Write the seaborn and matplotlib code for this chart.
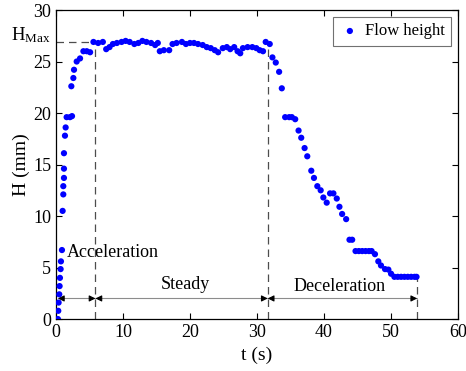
import seaborn as sns
import matplotlib.pyplot as plt
import pandas as pd

t_rise = [0.3, 0.35, 0.4, 0.5, 0.55, 0.6, 0.7, 0.75, 0.9, 1.0, 1.1, 1.1, 1.2, 1.2, 1.2,
          1.35, 1.45, 1.6, 2.1, 2.4, 2.3, 2.6, 2.7, 3.1, 3.6, 4.1, 4.6, 5.1, 5.6]
h_rise = [0.0, 0.8, 1.6, 2.4, 3.2, 4.0, 4.85, 5.6, 6.7, 10.5, 12.1, 12.9, 13.7, 14.6, 16.1,
          17.8, 18.6, 19.6, 19.6, 19.7, 22.6, 23.4, 24.2, 25.0, 25.3, 26.0, 26.0, 25.9, 26.9]

t_steady = [6.3, 7.0, 7.5, 8.0, 8.5, 9.1, 9.8, 10.4, 11.0, 11.7, 12.3, 12.9, 13.5, 14.2,
            14.8, 15.2, 15.5, 16.1, 16.9, 17.4, 18.0, 18.8, 19.4, 20.0, 20.6, 21.2, 21.9,
            22.5, 23.1, 23.7, 24.2, 24.9, 25.5, 26.0, 26.6, 27.1, 27.5, 27.9, 28.6, 29.3,
            29.9, 30.4, 30.9, 31.3, 31.9]
h_steady = [26.8, 26.9, 26.2, 26.4, 26.7, 26.8, 26.9, 27.0, 26.9, 26.7, 26.8, 27.0, 26.9, 26.8,
            26.6, 26.8, 26.0, 26.1, 26.1, 26.7, 26.8, 26.9, 26.7, 26.8, 26.8, 26.7, 26.6,
            26.4, 26.3, 26.1, 25.9, 26.3, 26.4, 26.2, 26.4, 26.0, 25.8, 26.3, 26.4, 26.4,
            26.3, 26.1, 26.0, 26.9, 26.7]

t_decel = [32.3, 32.8, 33.3, 33.7, 34.2, 34.8, 35.2, 35.7, 36.2, 36.6, 37.1, 37.5, 38.1,
           38.5, 39.0, 39.5, 39.9, 40.4, 40.9, 41.4, 41.9, 42.3, 42.7, 43.3, 43.8, 44.2,
           44.7, 45.2, 45.7, 46.2, 46.7, 47.1, 47.6, 48.1, 48.5, 49.1, 49.6, 50.0, 50.5,
           51.0, 51.5, 52.0, 52.5, 53.0, 53.5, 53.8]
h_decel = [25.4, 24.9, 24.0, 22.4, 19.6, 19.6, 19.6, 19.4, 18.3, 17.6, 16.6, 15.8, 14.4,
           13.7, 12.9, 12.5, 11.8, 11.3, 12.2, 12.2, 11.7, 10.9, 10.2, 9.7, 7.7, 7.7,
           6.6, 6.6, 6.6, 6.6, 6.6, 6.6, 6.3, 5.6, 5.2, 4.85, 4.8, 4.4, 4.1,
           4.1, 4.1, 4.1, 4.1, 4.1, 4.1, 4.1]

# phase boundaries (s) and max height (mm)
t_acc_end = 5.9
t_steady_end = 31.6
t_end = 53.9
h_max = 26.9
phases = [(0.3, t_acc_end), (t_acc_end, t_steady_end), (t_steady_end, t_end)]

flow = pd.DataFrame({
    't': t_rise + t_steady + t_decel,
    'H': h_rise + h_steady + h_decel,
})

sns.set_style('ticks')
plt.rcParams['font.family'] = ['Liberation Serif', 'DejaVu Serif']
plt.rcParams['mathtext.fontset'] = 'custom'
plt.rcParams['mathtext.rm'] = 'Liberation Serif'
plt.rcParams['mathtext.it'] = 'Liberation Serif:italic'
plt.rcParams['text.color'] = 'black'
plt.rcParams['axes.labelcolor'] = 'black'
plt.rcParams['xtick.color'] = 'black'
plt.rcParams['ytick.color'] = 'black'
plt.rcParams['axes.edgecolor'] = 'black'

fig = plt.figure(figsize=(4.66, 3.71), dpi=100)
ax = fig.add_axes([0.120, 0.140, 0.863, 0.833])

sns.scatterplot(data=flow, x='t', y='H', color='#0000ff', s=20, edgecolor='none',
                label='Flow height', ax=ax, zorder=3)

# dashed guide lines
dash = dict(color='0.3', lw=0.9, ls=(0, (6, 4)))
ax.plot([0, t_acc_end], [h_max, h_max], **dash)
ax.plot([t_acc_end, t_acc_end], [0, h_max], **dash)
ax.plot([t_steady_end, t_steady_end], [0, h_max], **dash)
ax.plot([t_end, t_end], [0, 4.1], **dash)

# phase arrows: grey shaft, black heads
head = dict(arrowstyle='-|>', color='black', lw=0.8, mutation_scale=9,
            shrinkA=0, shrinkB=0)
for a, b in phases:
    ax.plot([a, b], [2.0, 2.0], color='0.55', lw=0.8)
    ax.annotate('', xy=(a, 2.0), xytext=(a + 0.6, 2.0), arrowprops=head)
    ax.annotate('', xy=(b, 2.0), xytext=(b - 0.6, 2.0), arrowprops=head)

ax.text(1.6, 6.5, 'Acceleration', fontsize=13, va='center', ha='left')
ax.text(19.3, 3.4, 'Steady', fontsize=13, va='center', ha='center')
ax.text(42.3, 3.2, 'Deceleration', fontsize=13, va='center', ha='center')
ax.text(-0.8, h_max - 0.3, r'H$_{\mathrm{Max}}$', fontsize=13.5, va='bottom', ha='right',
        clip_on=False)

ax.set_xlim(0, 60)
ax.set_ylim(0, 30)
ax.set_xticks(range(0, 61, 10))
ax.set_yticks(range(0, 31, 5))
ax.tick_params(direction='in', top=True, right=True, labelsize=13, length=4, width=0.8)
for sp in ax.spines.values():
    sp.set_visible(True)
    sp.set_linewidth(0.9)
ax.set_xlabel('t (s)', fontsize=14)
ax.set_ylabel('H (mm)', fontsize=14, labelpad=2)

leg = ax.legend(loc='upper right', fontsize=12, frameon=True, fancybox=False,
                edgecolor='0.3', handletextpad=0.3, borderaxespad=0.4,
                handlelength=1.2, markerscale=1.0)
leg.get_frame().set_linewidth(0.8)

fig.savefig('out.png', dpi=100)
